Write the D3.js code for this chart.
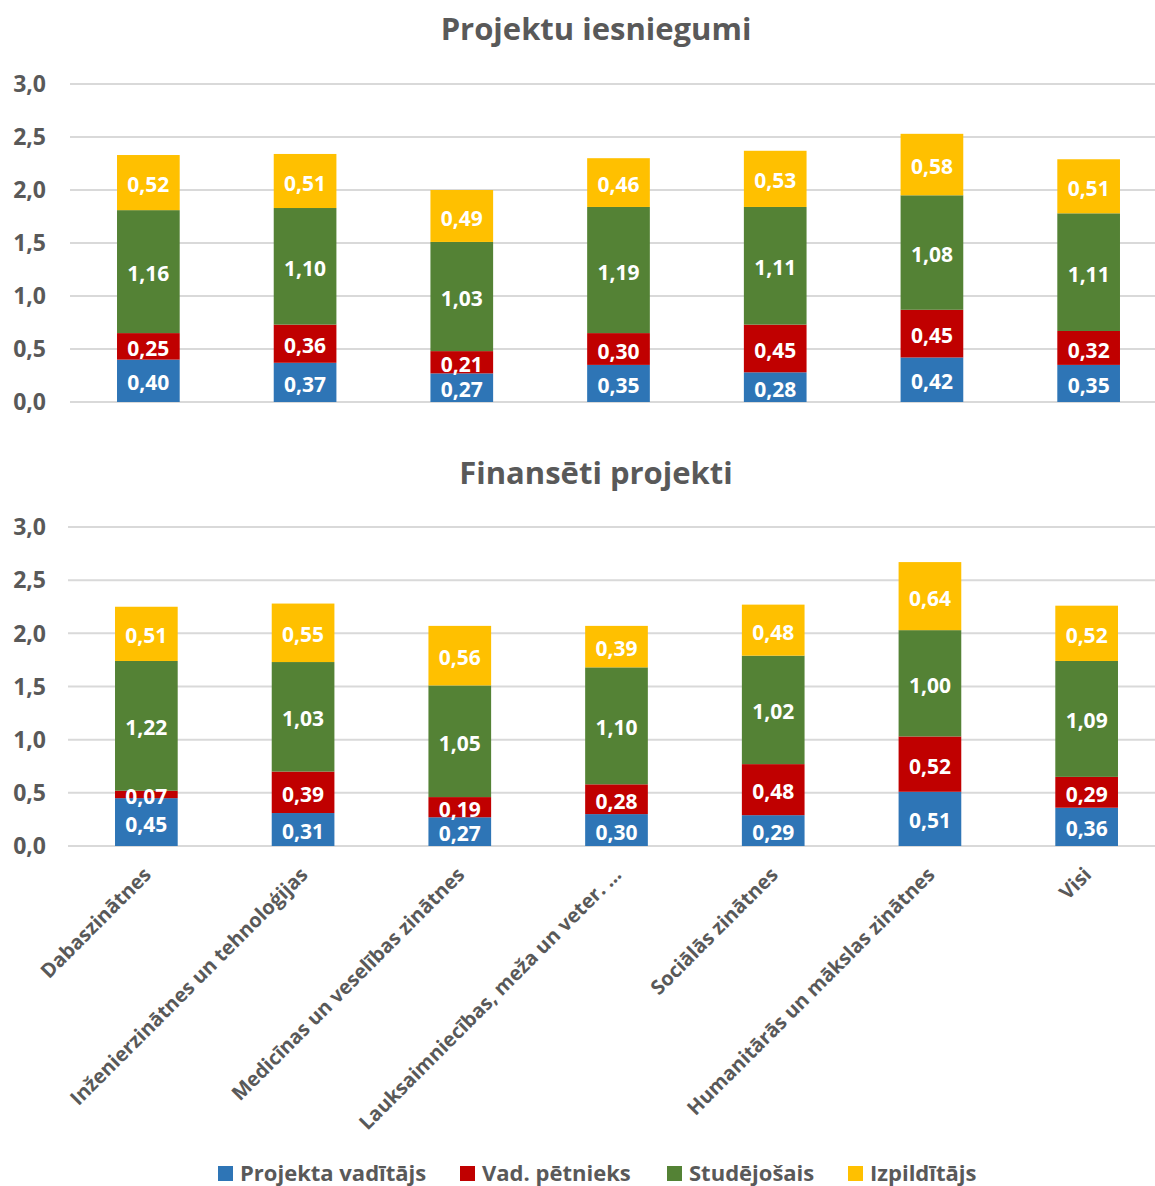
<!DOCTYPE html>
<html>
<head>
<meta charset="utf-8">
<script src="https://cdn.jsdelivr.net/npm/d3@7"></script>
<style>
  html, body { margin: 0; padding: 0; background: #fff; }
  svg { display: block; font-family: "Open Sans", "DejaVu Sans", sans-serif; }
</style>
</head>
<body>
<svg id="chart" width="1155" height="1186"></svg>
<script>
// Field categories shared by both panels
const categories = [
  "Dabaszinātnes",
  "Inženierzinātnes un tehnoloģijas",
  "Medicīnas un veselības zinātnes",
  "Lauksaimniecības, meža un veter. ...",
  "Sociālās zinātnes",
  "Humanitārās un mākslas zinātnes",
  "Visi"
];

const seriesNames = ["Projekta vadītājs", "Vad. pētnieks", "Studējošais", "Izpildītājs"];
const seriesColors = ["#2E75B6", "#C00000", "#548235", "#FFC000"];

// Panel 1: submitted projects
const submittedLeader    = [0.40, 0.37, 0.27, 0.35, 0.28, 0.42, 0.35];
const submittedResearch  = [0.25, 0.36, 0.21, 0.30, 0.45, 0.45, 0.32];
const submittedStudent   = [1.16, 1.10, 1.03, 1.19, 1.11, 1.08, 1.11];
const submittedExecutor  = [0.52, 0.51, 0.49, 0.46, 0.53, 0.58, 0.51];

// Panel 2: funded projects
const fundedLeader    = [0.45, 0.31, 0.27, 0.30, 0.29, 0.51, 0.36];
const fundedResearch  = [0.07, 0.39, 0.19, 0.28, 0.48, 0.52, 0.29];
const fundedStudent   = [1.22, 1.03, 1.05, 1.10, 1.02, 1.00, 1.09];
const fundedExecutor  = [0.51, 0.55, 0.56, 0.39, 0.48, 0.64, 0.52];

const yTicks = [0, 0.5, 1.0, 1.5, 2.0, 2.5, 3.0];

const svg = d3.select("#chart");
const textColor = "#595959";
const gridColor = "#D9D9D9";
const fmt = v => d3.format(".1f")(v).replace(".", ",");
const fmt2 = v => d3.format(".2f")(v).replace(".", ",");

function buildRows(lists) {
  return categories.map((c, i) => {
    const row = { cat: c };
    seriesNames.forEach((s, k) => row[s] = lists[k][i]);
    return row;
  });
}

function drawPanel(opts) {
  const { title, titleY, lists, y0, y1, xLeft, xRight, showCats } = opts;
  const g = svg.append("g");
  const rows = buildRows(lists);
  const stacked = d3.stack().keys(seriesNames)(rows);

  const x = d3.scaleBand().domain(categories).range([xLeft, xRight])
    .paddingInner(0.6).paddingOuter(0.3);
  const y = d3.scaleLinear().domain([0, 3]).range([y0, y1]);

  // Title
  g.append("text")
    .attr("x", 596).attr("y", titleY)
    .attr("text-anchor", "middle")
    .attr("font-size", 31).attr("font-weight", 700)
    .attr("fill", textColor)
    .text(title);

  // Gridlines
  g.append("g").selectAll("line").data(yTicks).join("line")
    .attr("x1", xLeft).attr("x2", 1155)
    .attr("y1", d => y(d)).attr("y2", d => y(d))
    .attr("stroke", gridColor).attr("stroke-width", 2);

  // Y axis labels
  g.append("g").selectAll("text").data(yTicks).join("text")
    .attr("x", 46).attr("y", d => y(d))
    .attr("dy", "0.36em")
    .attr("text-anchor", "end")
    .attr("font-size", 23).attr("font-weight", 700)
    .attr("fill", textColor)
    .text(fmt);

  // Stacked bars
  const layers = g.append("g").selectAll("g").data(stacked).join("g")
    .attr("fill", (d, i) => seriesColors[i]);
  layers.selectAll("rect").data(d => d).join("rect")
    .attr("x", d => x(d.data.cat))
    .attr("width", x.bandwidth())
    .attr("y", d => y(d[1]))
    .attr("height", d => y(d[0]) - y(d[1]));

  // Value labels
  const lbl = g.append("g").selectAll("g").data(stacked).join("g");
  lbl.selectAll("text").data(d => d.map(v => ({ v, key: d.key }))).join("text")
    .attr("x", d => x(d.v.data.cat) + x.bandwidth() / 2)
    .attr("y", d => (y(d.v[0]) + y(d.v[1])) / 2 + 2)
    .attr("dy", "0.36em")
    .attr("text-anchor", "middle")
    .attr("font-size", 21).attr("font-weight", 700)
    .attr("fill", "#fff")
    .text(d => fmt2(d.v.data[d.key]));

  if (showCats) {
    g.append("g").selectAll("text").data(categories).join("text")
      .attr("transform", d => `translate(${x(d) + x.bandwidth() / 2 + 6},${y0 + 30}) rotate(-45)`)
      .attr("text-anchor", "end")
      .attr("font-size", 20).attr("font-weight", 700)
      .attr("fill", textColor)
      .text(d => d);
  }
}

drawPanel({
  title: "Projektu iesniegumi", titleY: 40,
  lists: [submittedLeader, submittedResearch, submittedStudent, submittedExecutor],
  y0: 402, y1: 84, xLeft: 70, xRight: 1167, showCats: false
});

drawPanel({
  title: "Finansēti projekti", titleY: 484,
  lists: [fundedLeader, fundedResearch, fundedStudent, fundedExecutor],
  y0: 846, y1: 527, xLeft: 68, xRight: 1165, showCats: true
});

// Legend
const legendX = [218, 460, 667, 848];
const legend = svg.append("g").selectAll("g").data(seriesNames).join("g")
  .attr("transform", (d, i) => `translate(${legendX[i]},1166)`);
legend.append("rect")
  .attr("width", 15).attr("height", 15)
  .attr("fill", (d, i) => seriesColors[i]);
legend.append("text")
  .attr("x", 22).attr("y", 15)
  .attr("font-size", 22).attr("font-weight", 700)
  .attr("fill", textColor)
  .text(d => d);
</script>
</body>
</html>
